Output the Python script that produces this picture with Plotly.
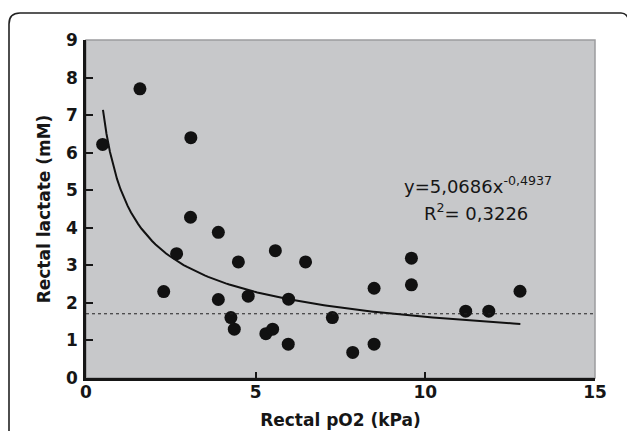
import plotly.graph_objects as go

# ---- data ----
po2 = [0.49, 1.59, 3.09, 3.08, 3.90, 2.67, 2.29, 4.49, 5.58, 6.47, 3.90, 4.78, 5.97,
       4.27, 4.37, 5.30, 5.50, 5.96, 7.26, 7.86, 8.49, 8.49, 9.59, 9.59, 11.19, 11.87, 12.79]
lactate = [6.22, 7.70, 6.40, 4.28, 3.88, 3.31, 2.30, 3.09, 3.39, 3.09, 2.09, 2.18, 2.10,
           1.61, 1.30, 1.18, 1.30, 0.90, 1.61, 0.68, 0.90, 2.39, 3.19, 2.48, 1.78, 1.78, 2.31]
fit_a = 5.0686
fit_b = -0.4937
fit_x_start = 0.5
fit_x_end = 12.8
ref_level = 1.71
x_ticks = [0, 5, 10, 15]
y_ticks = [0, 1, 2, 3, 4, 5, 6, 7, 8, 9]
eq_text = "y=5,0686x<sup>-0,4937</sup>"
r2_text = "R<sup>2</sup>= 0,3226"

# trendline from the displayed power-law equation
n = 120
fit_x = [fit_x_start + (fit_x_end - fit_x_start) * i / (n - 1) for i in range(n)]
fit_y = [fit_a * xv ** fit_b for xv in fit_x]

W, H = 627, 431
L, R, T, B = 86, 32, 40, 53
PW, PH = W - L - R, H - T - B


def px(xp):
    return (xp - L) / PW


def py(yp):
    return (H - B - yp) / PH


fig = go.Figure()

fig.add_trace(go.Scatter(x=po2, y=lactate, mode="markers",
                         marker=dict(color="#111111", size=13, line=dict(width=0)),
                         showlegend=False, hoverinfo="x+y"))
fig.add_trace(go.Scatter(x=fit_x, y=fit_y, mode="lines",
                         line=dict(color="#111111", width=2),
                         showlegend=False, hoverinfo="skip"))
fig.add_trace(go.Scatter(x=[0, 15], y=[ref_level, ref_level], mode="lines",
                         line=dict(color="#222222", width=1, dash="dot"),
                         showlegend=False, hoverinfo="skip"))

tickfont = dict(family="DejaVu Sans", size=17, color="#161616", weight="bold")
titlefont = dict(family="DejaVu Sans", size=17, color="#161616", weight="bold")

fig.update_xaxes(range=[0, 15], tickvals=x_ticks, ticks="inside", ticklen=6, tickwidth=2,
                 tickcolor="#161616", showline=True, linecolor="#161616", linewidth=2.5,
                 showgrid=False, zeroline=False, tickfont=tickfont, automargin=False,
                 ticklabelstandoff=-3,
                 title=dict(text="Rectal pO2 (kPa)", font=titlefont, standoff=13))
fig.update_yaxes(range=[0, 9], tickvals=y_ticks, ticks="inside", ticklen=7, tickwidth=2,
                 tickcolor="#161616", showline=True, linecolor="#161616", linewidth=2.5,
                 showgrid=False, zeroline=False, tickfont=tickfont, automargin=False,
                 ticklabelstandoff=2,
                 title=dict(text="Rectal lactate (mM)", font=titlefont, standoff=12))

# plot background with grey border
fig.add_shape(type="rect", xref="paper", yref="paper", x0=0, x1=1, y0=0, y1=1,
              fillcolor="#c7c8ca", line=dict(color="#9c9c9e", width=1.5), layer="below")

# outer rounded frame (partially cropped)
fl, ft, rr = 9, 13, 11
path = (f"M {px(fl)},{py(H + 10)} L {px(fl)},{py(ft + rr)} "
        f"Q {px(fl)},{py(ft)} {px(fl + rr)},{py(ft)} "
        f"L {px(621)},{py(ft)} Q {px(626)},{py(ft)} {px(628)},{py(ft + 5)}")
fig.add_shape(type="path", xref="paper", yref="paper", path=path,
              line=dict(color="#222222", width=1.6), layer="above")

annfont = dict(family="DejaVu Sans", size=18, color="#161616")
fig.add_annotation(x=11.55, y=5.14, text=eq_text, showarrow=False, font=annfont,
                   xanchor="center", yanchor="middle")
fig.add_annotation(x=11.5, y=4.43, text=r2_text, showarrow=False, font=annfont,
                   xanchor="center", yanchor="middle")

fig.update_layout(width=W, height=H, margin=dict(l=L, r=R, t=T, b=B, pad=0),
                  paper_bgcolor="white", plot_bgcolor="rgba(0,0,0,0)",
                  showlegend=False)

fig.write_html("out.html", config={"displayModeBar": False},
               post_script="document.body.style.margin='0';document.body.style.overflow='hidden';")
